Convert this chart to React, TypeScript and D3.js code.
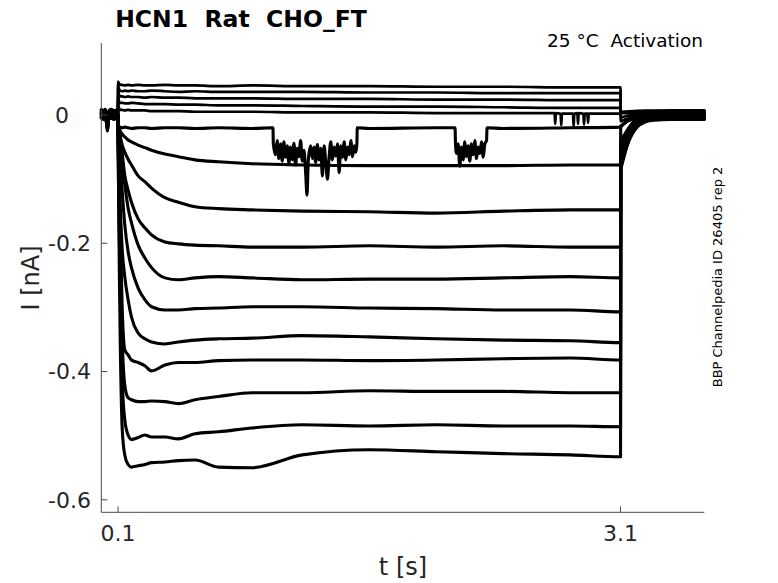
import React from "react";
import * as d3 from "d3";

const W = 778;
const H = 583;

// ---- axis ticks ----
const yTicks = [0, -0.2, -0.4, -0.6];
const yTickLabels = ["0", "-0.2", "-0.4", "-0.6"];
const xTicks = [0.1, 3.1];
const xTickLabels = ["0.1", "3.1"];

// ---- time grid of the voltage step (s) ----
const stepTimes = [0.1, 0.11, 0.125, 0.14, 0.16, 0.18, 0.22, 0.26, 0.3, 0.38, 0.46, 0.56, 0.7, 0.9, 1.2, 1.6, 2.0, 2.4, 2.8, 3.1];

// ---- current during the step (nA), one array per sweep ----
const sweep01 = [0.052, 0.047, 0.047, 0.046, 0.047, 0.046, 0.047, 0.046, 0.046, 0.047, 0.046, 0.046, 0.045, 0.046, 0.045, 0.045, 0.044, 0.044, 0.043, 0.043];
const sweep02 = [0.045, 0.038, 0.037, 0.038, 0.037, 0.038, 0.037, 0.037, 0.038, 0.037, 0.036, 0.037, 0.036, 0.036, 0.036, 0.035, 0.035, 0.034, 0.034, 0.034];
const sweep03 = [0.036, 0.029, 0.029, 0.028, 0.029, 0.028, 0.028, 0.027, 0.028, 0.027, 0.027, 0.026, 0.026, 0.026, 0.025, 0.025, 0.024, 0.024, 0.023, 0.023];
const sweep04 = [0.026, 0.019, 0.019, 0.018, 0.018, 0.019, 0.018, 0.017, 0.017, 0.017, 0.016, 0.016, 0.015, 0.015, 0.014, 0.013, 0.013, 0.012, 0.011, 0.011];
const sweep05 = [0.016, 0.008, 0.008, 0.007, 0.008, 0.007, 0.007, 0.007, 0.006, 0.006, 0.006, 0.005, 0.005, 0.005, 0.004, 0.004, 0.003, 0.003, 0.002, 0.002];
const sweep06 = [-0.012, -0.019, -0.02, -0.019, -0.02, -0.021, -0.02, -0.02, -0.021, -0.02, -0.02, -0.021, -0.02, -0.021, -0.02, -0.021, -0.02, -0.021, -0.02, -0.019];
const sweep07 = [-0.012, -0.023, -0.03, -0.034, -0.039, -0.042, -0.047, -0.051, -0.055, -0.061, -0.065, -0.07, -0.073, -0.076, -0.078, -0.079, -0.079, -0.079, -0.078, -0.078];
const sweep08 = [-0.01, -0.028, -0.047, -0.058, -0.069, -0.078, -0.095, -0.104, -0.114, -0.129, -0.136, -0.143, -0.146, -0.148, -0.15, -0.151, -0.153, -0.15, -0.148, -0.148];
const sweep09 = [-0.01, -0.03, -0.06, -0.094, -0.117, -0.136, -0.162, -0.176, -0.187, -0.198, -0.201, -0.203, -0.204, -0.206, -0.206, -0.204, -0.206, -0.204, -0.206, -0.206];
const sweep10 = [-0.01, -0.04, -0.08, -0.109, -0.145, -0.168, -0.203, -0.223, -0.238, -0.254, -0.257, -0.254, -0.252, -0.254, -0.257, -0.256, -0.256, -0.254, -0.252, -0.254];
const sweep11 = [-0.012, -0.06, -0.12, -0.171, -0.213, -0.238, -0.27, -0.288, -0.299, -0.304, -0.304, -0.302, -0.301, -0.299, -0.299, -0.301, -0.302, -0.304, -0.304, -0.307];
const sweep12 = [-0.015, -0.117, -0.21, -0.252, -0.288, -0.315, -0.34, -0.349, -0.354, -0.357, -0.354, -0.351, -0.349, -0.348, -0.344, -0.346, -0.349, -0.351, -0.352, -0.355];
const sweep13 = [-0.018, -0.148, -0.304, -0.366, -0.374, -0.382, -0.386, -0.391, -0.399, -0.39, -0.386, -0.386, -0.383, -0.382, -0.382, -0.383, -0.382, -0.38, -0.379, -0.382];
const sweep14 = [-0.02, -0.179, -0.351, -0.421, -0.441, -0.444, -0.447, -0.447, -0.446, -0.447, -0.45, -0.444, -0.439, -0.433, -0.433, -0.43, -0.431, -0.431, -0.433, -0.433];
const sweep15 = [-0.022, -0.226, -0.413, -0.475, -0.499, -0.506, -0.503, -0.499, -0.502, -0.502, -0.505, -0.497, -0.494, -0.488, -0.483, -0.485, -0.483, -0.485, -0.485, -0.486];
const sweep16 = [-0.025, -0.29, -0.49, -0.53, -0.545, -0.549, -0.547, -0.545, -0.542, -0.541, -0.539, -0.538, -0.549, -0.55, -0.53, -0.522, -0.525, -0.528, -0.53, -0.533];

const sweeps = [sweep01, sweep02, sweep03, sweep04, sweep05, sweep06, sweep07, sweep08, sweep09, sweep10, sweep11, sweep12, sweep13, sweep14, sweep15, sweep16];

// holding level of each sweep (nA)
const sweepBaseline = [0.005, 0.003, 0.007, 0.002, 0.0, -0.002, 0.006, -0.005, 0.001, -0.006, 0.004, -0.003, 0.0, -0.007, 0.002, -0.001];
// tail current amplitude after the step (nA)
const tailAmplitude = [0, 0, -0.003, -0.006, -0.01, -0.015, -0.025, -0.035, -0.045, -0.052, -0.058, -0.063, -0.068, -0.073, -0.078, -0.083];

// pre-step holding segment
const preTimes = [0, 0.012, 0.024, 0.03, 0.034, 0.037, 0.041, 0.048, 0.06, 0.075, 0.09, 0.0995];
const preValues = [0.002, 0.0, 0.002, -0.004, -0.012, -0.018, -0.005, 0.001, 0.002, 0.0, 0.001, 0.0];

// post-step tail segment
const postTimes = [3.101, 3.105, 3.11, 3.12, 3.13, 3.15, 3.17, 3.2, 3.25, 3.3, 3.4, 3.5, 3.6];
const tailShape = [1, 0.96, 0.9, 0.78, 0.66, 0.46, 0.31, 0.16, 0.05, 0.015, 0, 0, 0];

// channel flicker on sweep 6 (t, nA)
const flickerA: [number, number][] = [
  [1.025, -0.02], [1.027, -0.045], [1.04, -0.062], [1.05, -0.04], [1.06, -0.068], [1.07, -0.045], [1.08, -0.072], [1.09, -0.042],
  [1.1, -0.066], [1.11, -0.048], [1.12, -0.075], [1.13, -0.05], [1.14, -0.07], [1.15, -0.044], [1.16, -0.078], [1.17, -0.052],
  [1.18, -0.065], [1.19, -0.04], [1.2, -0.072], [1.21, -0.055], [1.22, -0.09], [1.228, -0.125], [1.236, -0.07], [1.25, -0.048],
  [1.26, -0.068], [1.27, -0.05], [1.28, -0.074], [1.29, -0.046], [1.3, -0.07], [1.31, -0.052], [1.32, -0.095], [1.33, -0.048],
  [1.34, -0.072], [1.35, -0.1], [1.36, -0.066], [1.37, -0.042], [1.38, -0.07], [1.39, -0.05], [1.4, -0.064], [1.41, -0.045],
  [1.42, -0.09], [1.43, -0.048], [1.44, -0.066], [1.45, -0.042], [1.46, -0.07], [1.47, -0.05], [1.48, -0.062], [1.49, -0.04],
  [1.5, -0.065], [1.51, -0.048], [1.52, -0.058], [1.526, -0.045], [1.528, -0.02],
];
const flickerB: [number, number][] = [
  [2.112, -0.02], [2.114, -0.04], [2.12, -0.06], [2.13, -0.045], [2.14, -0.08], [2.15, -0.05], [2.16, -0.07], [2.17, -0.042],
  [2.18, -0.065], [2.19, -0.048], [2.2, -0.072], [2.21, -0.045], [2.22, -0.062], [2.23, -0.04], [2.24, -0.068], [2.25, -0.05],
  [2.26, -0.06], [2.27, -0.042], [2.28, -0.066], [2.29, -0.045], [2.3, -0.04], [2.303, -0.02],
];
// brief openings on sweep 5 (t, nA)
const spikes5: [number, number][] = [
  [2.706, 0.003], [2.71, -0.014], [2.714, 0.003], [2.742, 0.002], [2.746, -0.016], [2.75, 0.002],
  [2.816, 0.002], [2.82, -0.018], [2.824, 0.002], [2.842, 0.003], [2.846, -0.014], [2.85, 0.003],
  [2.878, 0.002], [2.882, -0.015], [2.886, 0.002], [2.902, 0.002], [2.906, -0.012], [2.91, 0.002],
];
const FLICKER_SWEEP = 5;
const SPIKE_SWEEP = 4;

function buildSweep(i: number): [number, number][] {
  const pts: [number, number][] = preTimes.map((t, k) => [t, preValues[k] + sweepBaseline[i]]);
  let step: [number, number][] = stepTimes.map((t, k) => [t, sweeps[i][k]]);
  if (i === FLICKER_SWEEP) {
    const wins = [flickerA, flickerB].map((f) => [f[0][0], f[f.length - 1][0]]);
    step = step.filter(([t]) => !wins.some(([a, b]) => t >= a && t <= b));
    step = step.concat(flickerA, flickerB);
  }
  if (i === SPIKE_SWEEP) step = step.concat(spikes5);
  step.sort((a, b) => a[0] - b[0]);
  pts.push(...step);
  postTimes.forEach((t, k) => pts.push([t, sweepBaseline[i] + tailAmplitude[i] * tailShape[k]]));
  return pts;
}

export default function App() {
  const left = 101.3, right = 704.3, top = 43, bottom = 512.3;
  const x = d3.scaleLinear().domain([0, 3.6]).range([left, right]);
  const y = d3.scaleLinear().domain([-0.6195, 0.1122]).range([bottom, top]);
  const line = d3
    .line<[number, number]>()
    .x((d) => x(d[0]))
    .y((d) => y(d[1]))
    .curve(d3.curveMonotoneX);

  const font = "'DejaVu Sans', sans-serif";
  const axisColor = "#4a4a4a";
  const textColor = "#262626";

  return (
    <div style={{ position: "absolute", left: 0, top: 0 }}>
      <svg width={W} height={H} style={{ display: "block", background: "#fff" }}>
        <g fill="none" stroke="#000" strokeLinejoin="round" strokeLinecap="round">
          {sweeps.map((_, i) => (
            <path key={i} d={line(buildSweep(i)) || ""} strokeWidth={i < 5 ? 2.7 : 3.1} />
          ))}
        </g>
        {/* axes */}
        <g stroke={axisColor} strokeWidth={1} fill="none">
          <line x1={left} y1={top} x2={left} y2={bottom} />
          <line x1={left} y1={bottom} x2={right} y2={bottom} />
          {yTicks.map((v) => (
            <line key={v} x1={left} x2={left + 6} y1={y(v)} y2={y(v)} />
          ))}
          {xTicks.map((v) => (
            <line key={v} x1={x(v)} x2={x(v)} y1={bottom} y2={bottom - 6} />
          ))}
        </g>
        <g fontFamily={font} fontSize={22} fill={textColor}>
          {yTicks.map((v, k) => (
            <text key={v} x={yTickLabels[k] === "0" ? 69 : 91} y={y(v)} dy="0.36em" textAnchor="end">
              {yTickLabels[k]}
            </text>
          ))}
          {xTicks.map((v, k) => (
            <text key={v} x={x(v)} y={541} textAnchor="middle">
              {xTickLabels[k]}
            </text>
          ))}
        </g>
        <text x={403} y={575} textAnchor="middle" fontFamily={font} fontSize={24} fill={textColor}>
          t [s]
        </text>
        <text transform="translate(39,278) rotate(-90)" textAnchor="middle" fontFamily={font} fontSize={24} fill={textColor}>
          I [nA]
        </text>
        <text x={241} y={27} textAnchor="middle" fontFamily={font} fontSize={23.5} fontWeight="bold" fill="#000" style={{ whiteSpace: "pre" }}>
          {"HCN1  Rat  CHO_FT"}
        </text>
        <text x={703} y={47} textAnchor="end" fontFamily={font} fontSize={18.5} fill="#000" style={{ whiteSpace: "pre" }}>
          {"25 °C  Activation"}
        </text>
        <text transform="translate(722,277) rotate(-90)" textAnchor="middle" fontFamily={font} fontSize={13} fill="#000">
          BBP Channelpedia ID 26405 rep 2
        </text>
      </svg>
    </div>
  );
}
